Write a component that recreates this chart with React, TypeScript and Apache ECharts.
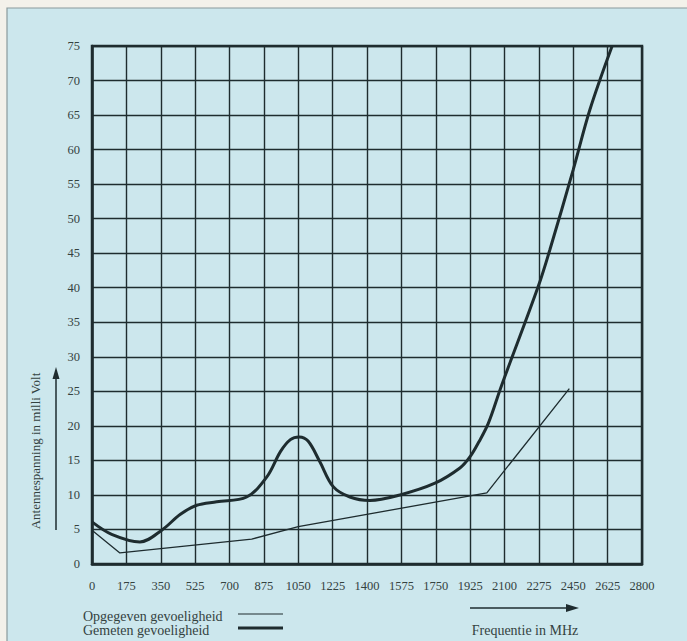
import React, { useEffect, useRef } from "react";
import * as echarts from "echarts";

const xTicks = [0, 175, 350, 525, 700, 875, 1050, 1225, 1400, 1575, 1750, 1925, 2100, 2275, 2450, 2625, 2800];
const yTicks = [0, 5, 10, 15, 20, 25, 30, 35, 40, 45, 50, 55, 60, 65, 70, 75];

// Opgegeven gevoeligheid (thin line) [MHz, mV]
const opgegevenFreq = [0, 142, 813, 1050, 2010, 2430];
const opgegevenVal = [4.9, 1.6, 3.6, 5.4, 10.3, 25.4];

// Gemeten gevoeligheid (thick line) [MHz, mV]
const gemetenFreq = [0, 100, 244, 355, 450, 533, 635, 787, 890, 960, 1010, 1055, 1100, 1160, 1228, 1313, 1415, 1568, 1746, 1873, 1924, 1970, 2018, 2077, 2100, 2272, 2331, 2450, 2535, 2648];
const gemetenVal = [6.1, 4.3, 3.2, 4.9, 7.2, 8.5, 9.0, 9.7, 12.6, 16.3, 18.0, 18.4, 17.8, 14.8, 11.2, 9.7, 9.2, 10.0, 11.7, 13.9, 15.5, 17.7, 20.4, 25.2, 27.0, 40.2, 45.5, 57.1, 65.8, 75.0];

const INK = "#1e2c2f";
const TEXT = "#34423f";
const FONT = "'Liberation Serif', 'DejaVu Serif', serif";

export default function App() {
  const ref = useRef<HTMLDivElement>(null);
  useEffect(() => {
    if (!ref.current) return;
    const chart = echarts.init(ref.current, undefined, { renderer: "svg" });
    const opg = opgegevenFreq.map((f, i) => [f, opgegevenVal[i]]);
    const gem = gemetenFreq.map((f, i) => [f, gemetenVal[i]]);
    chart.setOption({
      animation: false,
      backgroundColor: "#f3f1ea",
      grid: { left: 92, right: 45, top: 46, bottom: 77, show: false },
      xAxis: {
        type: "value",
        min: 0,
        max: 2800,
        interval: 175,
        axisLine: { show: true, onZero: false, lineStyle: { color: INK, width: 2.5 } },
        axisTick: { show: false },
        axisLabel: {
          margin: 15,
          color: TEXT,
          fontFamily: FONT,
          fontSize: 12.5,
          formatter: (v: number) => (xTicks.includes(v) ? String(v) : ""),
        },
        splitLine: { show: true, lineStyle: { color: INK, width: 1.4 } },
      },
      yAxis: {
        type: "value",
        min: 0,
        max: 75,
        interval: 5,
        axisLine: { show: true, lineStyle: { color: INK, width: 2.5 } },
        axisTick: { show: false },
        axisLabel: {
          margin: 12,
          color: TEXT,
          fontFamily: FONT,
          fontSize: 12.5,
          formatter: (v: number) => (yTicks.includes(v) ? String(v) : ""),
        },
        splitLine: { show: true, lineStyle: { color: INK, width: 1.4 } },
      },
      graphic: [
        {
          type: "rect",
          z: -10,
          shape: { x: 7, y: 8, width: 690, height: 640 },
          style: { fill: "#cce7ed", stroke: "#8a9a9c", lineWidth: 1.2 },
        },
        {
          type: "rect",
          z: 5,
          shape: { x: 92, y: 46, width: 550, height: 518 },
          style: { fill: "none", stroke: INK, lineWidth: 2.5 },
        },
        {
          type: "text",
          x: 35,
          y: 451,
          rotation: Math.PI / 2,
          style: {
            text: "Antennespanning in milli Volt",
            fill: TEXT,
            font: `13px ${FONT}`,
            align: "center",
            verticalAlign: "middle",
          },
        },
        {
          type: "line",
          shape: { x1: 56, y1: 530, x2: 56, y2: 376 },
          style: { stroke: INK, lineWidth: 1.5 },
        },
        {
          type: "polygon",
          shape: { points: [[56, 367], [52.5, 379], [59.5, 379]] },
          style: { fill: INK },
        },
        {
          type: "text",
          x: 83,
          y: 616,
          style: { text: "Opgegeven gevoeligheid", fill: TEXT, font: `14px ${FONT}`, verticalAlign: "middle" },
        },
        {
          type: "text",
          x: 83,
          y: 630,
          style: { text: "Gemeten gevoeligheid", fill: TEXT, font: `14px ${FONT}`, verticalAlign: "middle" },
        },
        {
          type: "line",
          shape: { x1: 238, y1: 614, x2: 283, y2: 614 },
          style: { stroke: INK, lineWidth: 1.2 },
        },
        {
          type: "line",
          shape: { x1: 238, y1: 628, x2: 283, y2: 628 },
          style: { stroke: INK, lineWidth: 3 },
        },
        {
          type: "line",
          shape: { x1: 470, y1: 608, x2: 568, y2: 608 },
          style: { stroke: INK, lineWidth: 1.5 },
        },
        {
          type: "polygon",
          shape: { points: [[579, 608], [566, 604], [566, 612]] },
          style: { fill: INK },
        },
        {
          type: "text",
          x: 525,
          y: 630,
          style: { text: "Frequentie in MHz", fill: TEXT, font: `14px ${FONT}`, align: "center", verticalAlign: "middle" },
        },
      ],
      series: [
        {
          name: "Opgegeven gevoeligheid",
          type: "line",
          data: opg,
          showSymbol: false,
          smooth: false,
          lineStyle: { color: INK, width: 1.3 },
          z: 3,
        },
        {
          name: "Gemeten gevoeligheid",
          type: "line",
          data: gem,
          showSymbol: false,
          smooth: 0.35,
          clip: true,
          lineStyle: { color: INK, width: 3 },
          z: 4,
        },
      ],
    });
    return () => chart.dispose();
  }, []);
  return <div ref={ref} style={{ position: "fixed", left: 0, top: 0, width: 687, height: 641 }} />;
}
